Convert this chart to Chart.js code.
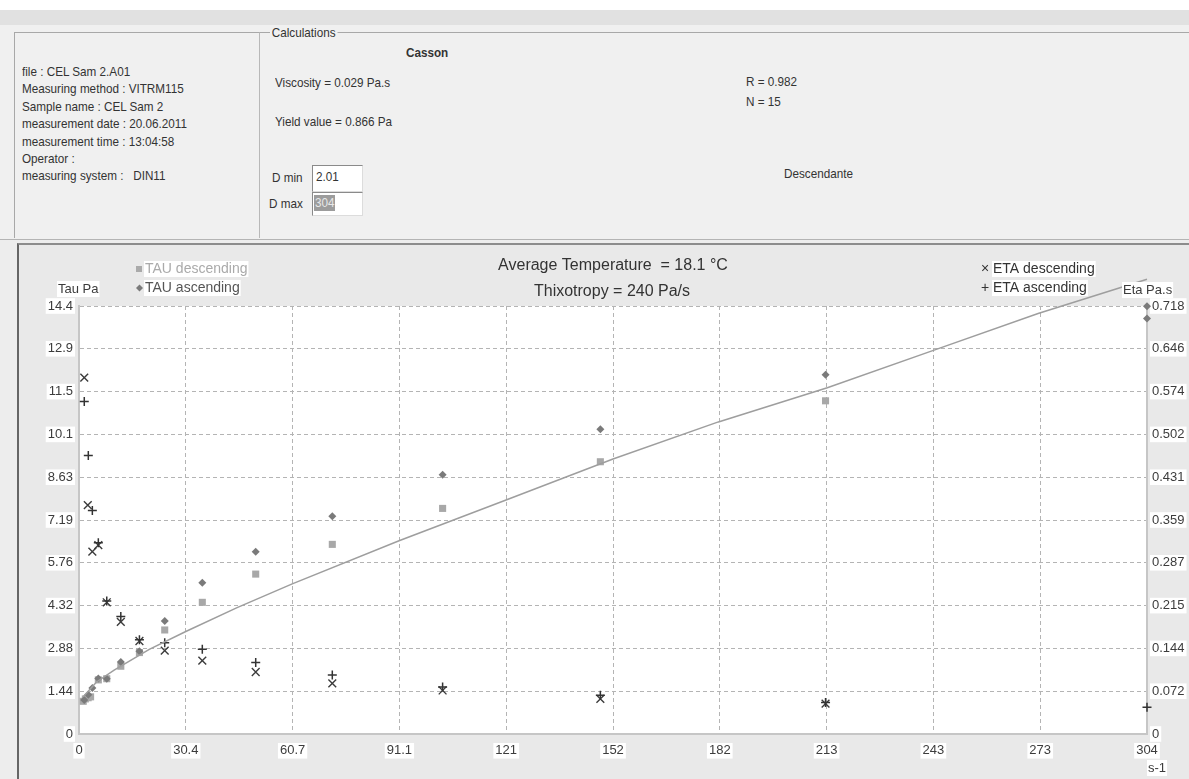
<!DOCTYPE html>
<html>
<head>
<meta charset="utf-8">
<script src="https://cdn.jsdelivr.net/npm/chart.js@4.4.0/dist/chart.umd.min.js"></script>
<style>
  body { margin: 0; width: 1189px; height: 779px; position: relative; overflow: hidden; background: #ededed;
         font-family: "Liberation Sans", Arial, sans-serif; color: #333; }
  .abs { position: absolute; white-space: nowrap; }
  .t { font-size: 13px; line-height: 16px; transform: scaleX(0.9); transform-origin: left center; }
  #top { left: 0; top: 0; width: 1189px; height: 10px; background: #fff; }
  #band { left: 0; top: 10px; width: 1189px; height: 15px; background: #e1e1e1; }
  #head { left: 0; top: 25px; width: 1189px; height: 214px; background: #f0f0f0; border-bottom: 1px solid #b4b4b4; }
  #info { left: 14px; top: 32px; width: 244px; height: 205px; border-top: 1px solid #a8a8a8; border-left: 1px solid #a8a8a8; border-right: 1px solid #b8b8b8; }
  #calc { left: 260px; top: 32px; width: 929px; height: 205px; border-top: 1px solid #a8a8a8; }
  #infoText { left: 22px; top: 63px; line-height: 17.4px; }
  .box { background: #fff; border-top: 1px solid #8a8a8a; border-left: 1px solid #8a8a8a; border-bottom: 1px solid #dcdcdc; border-right: 1px solid #dcdcdc; }
  #chartPanel { left: 17px; top: 243px; width: 1172px; height: 536px; background: #e9e9e9; border-top: 2px solid #8c8c8c; border-left: 2px solid #666; }
  canvas { position: absolute; left: 0; top: 240px; }
</style>
</head>
<body>
<div id="top" class="abs"></div>
<div id="band" class="abs"></div>
<div id="head" class="abs"></div>
<div id="info" class="abs"></div>
<div id="calc" class="abs"></div>

<div id="infoText" class="abs t">file : CEL Sam 2.A01<br>Measuring method : VITRM115<br>Sample name : CEL Sam 2<br>measurement date : 20.06.2011<br>measurement time : 13:04:58<br>Operator :<br>measuring system :&nbsp;&nbsp; DIN11</div>

<div class="abs t" style="left:270px; top:25px; background:#f0f0f0; padding:0 2px;">Calculations</div>
<div class="abs t" style="left:406px; top:45px; font-weight:bold;">Casson</div>
<div class="abs t" style="left:275px; top:75px;">Viscosity = 0.029 Pa.s</div>
<div class="abs t" style="left:275px; top:114px;">Yield value = 0.866 Pa</div>
<div class="abs t" style="left:746px; top:74px;">R = 0.982</div>
<div class="abs t" style="left:746px; top:94px;">N = 15</div>
<div class="abs t" style="left:784px; top:166px;">Descendante</div>

<div class="abs t" style="left:272px; top:170px;">D min</div>
<div class="abs box" style="left:312px; top:165px; width:49px; height:25px;"></div>
<div class="abs t" style="left:316px; top:169px;">2.01</div>
<div class="abs t" style="left:269px; top:196px;">D max</div>
<div class="abs box" style="left:312px; top:192px; width:49px; height:22px;"></div>
<div class="abs" style="left:314px; top:195px; width:21px; height:16px; background:#9c9c9c;"></div>
<div class="abs t" style="left:315px; top:195px; color:#e8e8e8;">304</div>

<div id="chartPanel" class="abs"></div>
<canvas id="rheo" width="1189" height="539"></canvas>

<script>
// shear rate (s-1) and shear stress (Pa) / viscosity (Pa.s)
const tauUpRate = [1.5, 2.65, 3.8, 5.5, 7.9, 11.9, 17.2, 24.4, 35.1, 50.3, 72.1, 103.5, 148.4, 212.5, 304, 304];
const tauUp = [1.14, 1.32, 1.55, 1.87, 1.86, 2.42, 2.78, 3.80, 5.09, 6.13, 7.33, 8.72, 10.25, 12.09, 13.98, 14.39];

const tauDownRate = [1.2, 1.8, 2.6, 3.3, 5.5, 7.9, 11.9, 17.2, 24.4, 35.1, 50.3, 72.1, 103.5, 148.4, 212.5];
const tauDown = [1.10, 1.18, 1.22, 1.25, 1.82, 1.86, 2.28, 2.74, 3.50, 4.43, 5.38, 6.38, 7.59, 9.16, 11.21];

const etaUpRate = [1.5, 2.65, 3.8, 5.5, 7.9, 11.9, 17.2, 24.4, 35.1, 50.3, 72.1, 103.5, 148.4, 212.5, 304];
const etaUp = [0.558, 0.467, 0.375, 0.321, 0.223, 0.197, 0.158, 0.153, 0.142, 0.120, 0.099, 0.079, 0.065, 0.053, 0.045];

const etaDownRate = [1.5, 2.5, 3.8, 5.5, 7.9, 11.9, 17.2, 24.4, 35.1, 50.3, 72.1, 103.5, 148.4, 212.5];
const etaDown = [0.598, 0.384, 0.306, 0.317, 0.221, 0.188, 0.156, 0.140, 0.123, 0.104, 0.085, 0.073, 0.059, 0.051];

// Casson fit curve
const fitRate = [1.2, 5, 10, 20, 30.4, 45, 60.7, 91.1, 121, 152, 182, 213, 243, 273, 304];
const fitTau = [1.25, 1.75, 2.15, 2.85, 3.45, 4.25, 5.05, 6.5, 7.85, 9.25, 10.5, 11.65, 12.9, 14.15, 15.3];

const xTickLabels = ['0', '30.4', '60.7', '91.1', '121', '152', '182', '213', '243', '273', '304'];
const tauTickLabels = ['0', '1.44', '2.88', '4.32', '5.76', '7.19', '8.63', '10.1', '11.5', '12.9', '14.4'];
const etaTickLabels = ['0', '0.072', '0.144', '0.215', '0.287', '0.359', '0.431', '0.502', '0.574', '0.646', '0.718'];

const titleLines = ['Average Temperature  = 18.1 °C', 'Thixotropy = 240 Pa/s'];

const pts = (xs, ys) => xs.map((x, i) => ({ x: x, y: ys[i] }));
const FONT = '"Liberation Sans", Arial, sans-serif';

function labelBox(ctx, text, x, y, align) {
  const w = ctx.measureText(text).width;
  const left = align === 'center' ? x - w / 2 : x;
  ctx.fillStyle = '#fff';
  ctx.fillRect(left - 1, y - 8, w + 2, 16);
}

const decorations = {
  id: 'decorations',
  beforeDraw(chart) {
    const { ctx, chartArea: a } = chart;
    ctx.save();
    ctx.fillStyle = '#fff';
    ctx.fillRect(a.left, a.top, a.right - a.left, a.bottom - a.top);
    ctx.restore();
  },
  afterDraw(chart) {
    const ctx = chart.ctx;
    ctx.save();
    ctx.textBaseline = 'middle';

    // titles
    ctx.font = '16px ' + FONT;
    ctx.fillStyle = '#333';
    ctx.textAlign = 'center';
    ctx.fillText(titleLines[0], 613, 26);
    ctx.fillText(titleLines[1], 612, 52);

    // axis names
    ctx.font = '13px ' + FONT;
    ctx.textAlign = 'left';
    [['Tau Pa', 58, 49], ['Eta Pa.s', 1123, 50], ['s-1', 1148, 528]].forEach(([s, x, y]) => {
      labelBox(ctx, s, x, y, 'left');
      ctx.fillStyle = '#3c3c3c';
      ctx.fillText(s, x, y);
    });

    // legend
    ctx.font = '14px ' + FONT;
    labelBox(ctx, 'TAU descending', 145, 29, 'left');
    ctx.fillStyle = '#aaaaaa';
    ctx.fillText('TAU descending', 145, 29);
    ctx.fillRect(136, 26, 6, 6);

    labelBox(ctx, 'TAU ascending', 145, 48, 'left');
    ctx.fillStyle = '#555';
    ctx.fillText('TAU ascending', 145, 48);
    ctx.fillStyle = '#7a7a7a';
    ctx.beginPath();
    ctx.moveTo(139.5, 44.5); ctx.lineTo(143, 48); ctx.lineTo(139.5, 51.5); ctx.lineTo(136, 48);
    ctx.closePath(); ctx.fill();

    labelBox(ctx, 'ETA descending', 993, 29, 'left');
    labelBox(ctx, 'ETA ascending', 993, 48, 'left');
    ctx.fillStyle = '#333';
    ctx.fillText('ETA descending', 993, 29);
    ctx.fillText('ETA ascending', 993, 48);
    ctx.textAlign = 'center';
    ctx.fillText('\u00d7', 985, 29);
    ctx.fillText('+', 985, 48);
    ctx.restore();
  }
};

const tickFont = { family: FONT, size: 13 };

new Chart(document.getElementById('rheo'), {
  type: 'scatter',
  data: {
    datasets: [
      {
        label: 'Casson',
        data: pts(fitRate, fitTau),
        showLine: true,
        pointRadius: 0,
        borderColor: '#9e9e9e',
        borderWidth: 1.5,
        clip: false,
        yAxisID: 'y'
      },
      {
        label: 'ETA ascending',
        data: pts(etaUpRate, etaUp),
        pointStyle: 'cross',
        pointRadius: 4.5,
        borderColor: '#333',
        borderWidth: 1.5,
        clip: false,
        yAxisID: 'y2'
      },
      {
        label: 'ETA descending',
        data: pts(etaDownRate, etaDown),
        pointStyle: 'crossRot',
        pointRadius: 5.5,
        borderColor: '#3c3c3c',
        borderWidth: 1.4,
        clip: false,
        yAxisID: 'y2'
      },
      {
        label: 'TAU ascending',
        data: pts(tauUpRate, tauUp),
        pointStyle: 'rectRot',
        pointRadius: 4,
        backgroundColor: '#7a7a7a',
        borderWidth: 0,
        clip: false,
        yAxisID: 'y'
      },
      {
        label: 'TAU descending',
        data: pts(tauDownRate, tauDown),
        pointStyle: 'rect',
        pointRadius: 5,
        backgroundColor: '#a8a8a8',
        borderWidth: 0,
        clip: false,
        yAxisID: 'y'
      }
    ]
  },
  options: {
    responsive: false,
    animation: false,
    events: [],
    layout: { padding: { top: 66, left: 18, right: 0, bottom: 20 } },
    plugins: {
      legend: { display: false },
      tooltip: { enabled: false }
    },
    scales: {
      x: {
        type: 'linear',
        min: 0,
        max: 304,
        afterFit: s => { s.height = 25; },
        grid: { color: '#b4b4b4', drawTicks: false },
        border: { color: '#c6c6c6', width: 2, dash: [4, 3] },
        ticks: {
          count: 11,
          autoSkip: false,
          maxRotation: 0,
          padding: 9,
          color: '#3c3c3c',
          font: tickFont,
          showLabelBackdrop: true,
          backdropColor: '#fff',
          backdropPadding: { x: 2, y: 0 },
          callback: (v, i) => xTickLabels[i]
        }
      },
      y: {
        position: 'left',
        min: 0,
        max: 14.4,
        afterFit: s => { s.width = 61; },
        grid: { color: '#b4b4b4', drawTicks: false },
        border: { color: '#c6c6c6', width: 2, dash: [4, 3] },
        ticks: {
          count: 11,
          padding: 6,
          color: '#3c3c3c',
          font: tickFont,
          showLabelBackdrop: true,
          backdropColor: '#fff',
          backdropPadding: { x: 2, y: 0 },
          callback: (v, i) => tauTickLabels[i]
        }
      },
      y2: {
        position: 'right',
        min: 0,
        max: 0.718,
        afterFit: s => { s.width = 42; },
        grid: { drawOnChartArea: false, drawTicks: false },
        border: { color: '#c6c6c6', width: 2 },
        ticks: {
          count: 11,
          padding: 5,
          color: '#3c3c3c',
          font: tickFont,
          showLabelBackdrop: true,
          backdropColor: '#fff',
          backdropPadding: { x: 2, y: 0 },
          callback: (v, i) => etaTickLabels[i]
        }
      }
    }
  },
  plugins: [decorations]
});
</script>
</body>
</html>
